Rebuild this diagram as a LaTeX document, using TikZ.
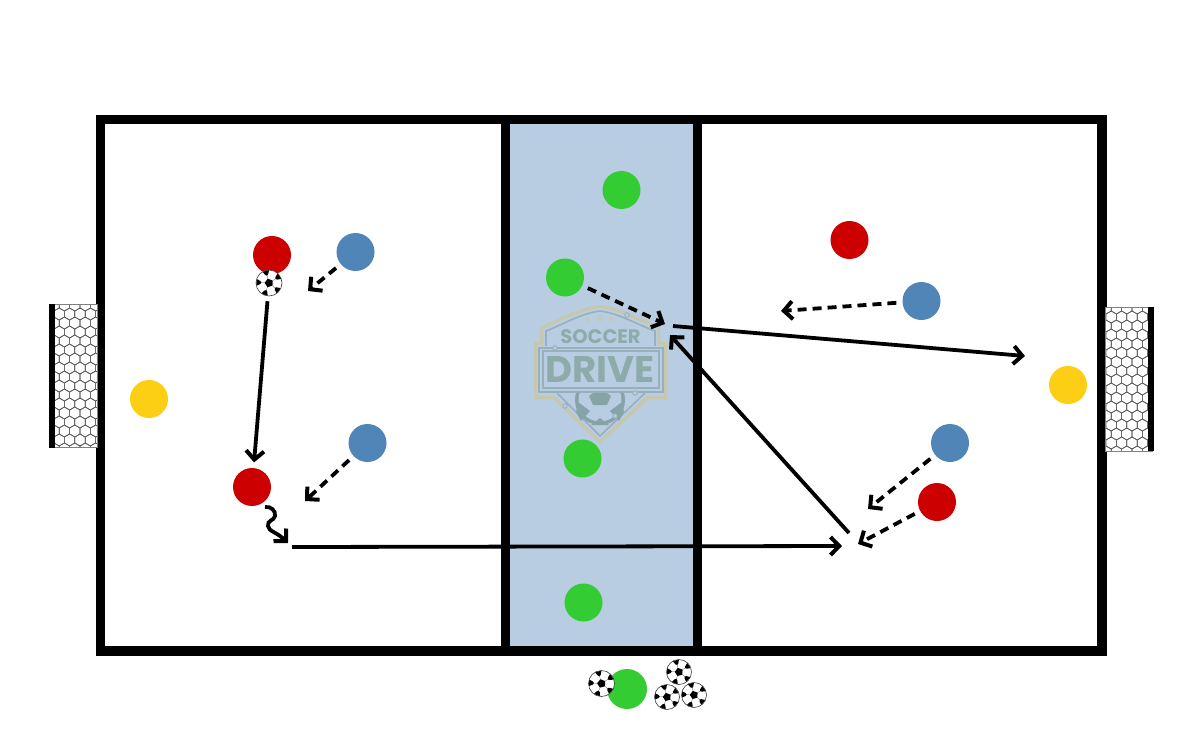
\documentclass[tikz,border=0pt]{standalone}
\usepackage{fontspec}
\setmainfont{Poppins}
\newfontfamily\symfont{DejaVu Sans}
\usetikzlibrary{arrows.meta}
\definecolor{panel}{HTML}{B8CDE1}
\definecolor{pgreen}{HTML}{33CC33}
\definecolor{pred}{HTML}{CC0000}
\definecolor{pblue}{HTML}{5085B8}
\definecolor{pyellow}{HTML}{FCCF14}
\definecolor{loggold}{HTML}{C6C8AE}
\definecolor{logline}{HTML}{97B0BC}
\definecolor{logtext}{HTML}{8DABAA}
\definecolor{logball}{HTML}{86A4A8}
\pgfdeclarearrow{
  name=Chev,
  setup code={
    \pgfarrowssetlineend{-2pt}
    \pgfarrowssettipend{0pt}
    \pgfarrowssetbackend{-12pt}
    \pgfarrowssetvisualbackend{-3pt}
    \pgfarrowshullpoint{0pt}{0pt}
    \pgfarrowshullpoint{-12pt}{10pt}
    \pgfarrowshullpoint{-12pt}{-10pt}
  },
  drawing code={
    \pgfsetdash{}{0pt}
    \pgfsetlinewidth{4pt}
    \pgfsetmiterjoin
    \pgfsetbuttcap
    \pgfpathmoveto{\pgfpoint{-11.5pt}{9pt}}
    \pgfpathlineto{\pgfpoint{-2.8pt}{0pt}}
    \pgfpathlineto{\pgfpoint{-11.5pt}{-9pt}}
    \pgfusepathqstroke
  }
}
\newcommand{\ballpatch}[2]{%
  \fill[black] (#1-15:.5*#2) -- (#1+15:.5*#2) -- (#1+10:.34*#2) -- (#1:.29*#2) -- (#1-10:.34*#2) -- cycle;
  \draw[black!70,line width=.25pt] (#1:.16*#2) -- (#1:.3*#2);
}
\newcommand{\ballcore}[1]{%
  \fill[black] (105:.17*#1) -- (177:.17*#1) -- (249:.17*#1) -- (321:.17*#1) -- (33:.17*#1) -- cycle;
  \ballpatch{33}{#1}\ballpatch{105}{#1}\ballpatch{177}{#1}\ballpatch{249}{#1}\ballpatch{321}{#1}%
}
\tikzset{
  x=1pt,y=-1pt,
  player/.style={circle,minimum size=38pt,inner sep=0pt,draw=none},
  greenp/.style={player,fill=pgreen},
  redp/.style={player,fill=pred},
  bluep/.style={player,fill=pblue},
  yellowp/.style={player,fill=pyellow},
  frameline/.style={line width=9.5pt,draw=black},
  pass/.style={line width=3.8pt,-Chev},
  run/.style={line width=3.8pt,dash pattern=on 9pt off 6pt,-Chev,shorten <=6pt},
  ball/.style={circle,minimum size=#1,inner sep=0pt,fill=white,draw=black!75,line width=.6pt,
    path picture={\ballcore{#1}}},
  netline/.style={draw=black!65,line width=.65pt},
  logotext/.style={inner sep=0pt,text=logtext},
  star/.style={inner sep=0pt,text=loggold},
  logdot/.style={circle,minimum size=4.5pt,inner sep=0pt,draw=logline,line width=.9pt,fill=panel},
}
\newcommand{\netcells}[4]{%
  \begin{scope}
    \clip (#1,#2) rectangle (#3,#4);
    \foreach \r in {0,...,17}{
      \foreach \c in {0,...,5}{
        \pgfmathsetmacro{\hx}{#1+\c*10.4+mod(\r,2)*5.2}
        \pgfmathsetmacro{\hy}{#2+\r*9}
        \draw[netline] (\hx,\hy-6) -- (\hx+5.2,\hy-3) -- (\hx+5.2,\hy+3) -- (\hx,\hy+6) -- (\hx-5.2,\hy+3) -- (\hx-5.2,\hy-3) -- cycle;
      }
    }
  \end{scope}}
\begin{document}
\begin{tikzpicture}
\useasboundingbox (0,0) rectangle (1200,750);
\fill[white] (0,0) rectangle (1200,750);
% panel
\fill[panel] (506,119) rectangle (697,651);
% logo
\fill[even odd rule,loggold] (534,342) -- (540,342) -- (540,327) .. controls (560,318) and (580,307) .. (600,305) .. controls (620,307) and (640,318) .. (660,327) -- (660,342) -- (667,342) -- (667,399) -- (649,399) -- (600,444) -- (553,399) -- (534,399) -- cycle
 (537,345) -- (543,345) -- (543,329) .. controls (562,321) and (581,310) .. (600,308) .. controls (619,310) and (638,321) .. (657,329) -- (657,345) -- (664,345) -- (664,396) -- (647,396) -- (600,440) -- (555,396) -- (537,396) -- cycle;
\draw[logline,line width=1.6pt] (546,347) -- (546,331) .. controls (564,324) and (582,313) .. (600,311) .. controls (618,313) and (636,324) .. (655,331) -- (655,347);
\draw[logline,line width=1.6pt] (557,393) -- (600,436) -- (645,393);
\begin{scope}
  \clip (560,393) rectangle (640,430);
  \fill[logball] (600,400) circle (25);
  \fill[panel] (600,400) circle (21.5);
  \fill[logball] (600,388) -- (611,396) -- (607,405) -- (593,405) -- (589,396) -- cycle;
  \fill[logball] (600,418) -- (609,425) -- (591,425) -- cycle;
  \fill[logball] (578,402) -- (590,411) -- (581,421) -- (576,412) -- cycle;
  \fill[logball] (622,402) -- (610,411) -- (619,421) -- (624,412) -- cycle;
\end{scope}
\fill[panel] (537,346) rectangle (664,393);
\draw[logline,line width=1.3pt] (539,348) rectangle (663,392);
\draw[logline,line width=1.3pt] (543,351) rectangle (659,388);
\node[star,font=\symfont\fontsize{8}{8}\selectfont] (st1) at (588,320) {★};
\node[star,font=\symfont\fontsize{10}{10}\selectfont] (st2) at (600,319) {★};
\node[star,font=\symfont\fontsize{8}{8}\selectfont] (st3) at (611,320) {★};
\node[logotext,font=\bfseries\fontsize{19.5}{20}\selectfont] (soccer) at (600.5,336.5) {SOCCER};
\node[logotext,font=\bfseries\fontsize{37}{37}\selectfont] (drive) at (600,370) {DRIVE};
\node[logdot] (ld1) at (555,348) {};
\node[logdot] (ld2) at (627,315) {};
\node[logdot] (ld3) at (635,393) {};
\node[logdot] (ld4) at (565,406) {};
\node[logdot] (ld5) at (615,416) {};
% frame
\draw[frameline] (100.5,119.5) rectangle (1102,651);
\draw[frameline] (505.7,119) -- (505.7,651);
\draw[frameline] (697.3,119) -- (697.3,651);
% goals
\fill[white] (54,305) rectangle (97,447);
\netcells{54}{305}{97}{447}
\draw[black!50,line width=1pt] (50,304.5) -- (97,304.5) -- (97,447) -- (50,447);
\fill[black] (49,304) rectangle (55,448);
\fill[white] (1105,308) rectangle (1149,451);
\netcells{1106}{308}{1149}{451}
\draw[black!50,line width=1pt] (1153,307.5) -- (1105.5,307.5) -- (1105.5,451) -- (1153,451);
\fill[black] (1148,307) rectangle (1154,451);
% players
\node[greenp] (g1) at (621.5,190) {};
\node[greenp] (g2) at (565,277.5) {};
\node[greenp] (g3) at (582.5,458.5) {};
\node[greenp] (g4) at (583.5,602.5) {};
\node[greenp,minimum size=40pt] (g5) at (627,689) {};
\node[redp] (r1) at (272,255) {};
\node[redp] (r2) at (252,487) {};
\node[redp] (r3) at (849.5,240) {};
\node[redp] (r4) at (937,502) {};
\node[bluep] (b1) at (355.5,252) {};
\node[bluep] (b2) at (367.5,443) {};
\node[bluep] (b3) at (921.5,301) {};
\node[bluep] (b4) at (950,443) {};
\node[yellowp] (y1) at (149,399) {};
\node[yellowp] (y2) at (1068,385) {};
% balls
\node[ball=26pt] (ball1) at (269,283) {};
\node[ball=26pt] (ball2) at (601.5,683.5) {};
\node[ball=25pt] (ball3) at (679,672) {};
\node[ball=25pt] (ball4) at (667,697) {};
\node[ball=25pt] (ball5) at (694,695) {};
% free ends
\coordinate (tb1) at (308,291);
\coordinate (tb2) at (305,501);
\coordinate (tg2) at (665,324);
\coordinate (tb3) at (781,311);
\coordinate (tb4) at (868,509);
\coordinate (tr4) at (858,544);
\coordinate (dribble) at (288,543);
\coordinate (p2s) at (292,547);
\coordinate (p2e) at (842,546);
\coordinate (p3s) at (849,533);
\coordinate (p3e) at (670,335);
\coordinate (p4s) at (673,326);
\coordinate (p4e) at (1025,356);
% connectors
\draw[pass,shorten <=5pt,shorten >=5.5pt] (ball1) -- (r2);
\draw[pass] (p2s) -- (p2e);
\draw[pass] (p3s) -- (p3e);
\draw[pass] (p4s) -- (p4e);
\draw[run] (b1) -- (tb1);
\draw[run] (b2) -- (tb2);
\draw[run] (g2) -- (tg2);
\draw[run] (b3) -- (tb3);
\draw[run] (b4) -- (tb4);
\draw[run] (r4) -- (tr4);
\draw[pass] (265,507) .. controls (271,506) and (276,511) .. (275,516)
  .. controls (274,521) and (267,520) .. (268,526)
  .. controls (269,532) and (276,531) .. (dribble);
\end{tikzpicture}
\end{document}
